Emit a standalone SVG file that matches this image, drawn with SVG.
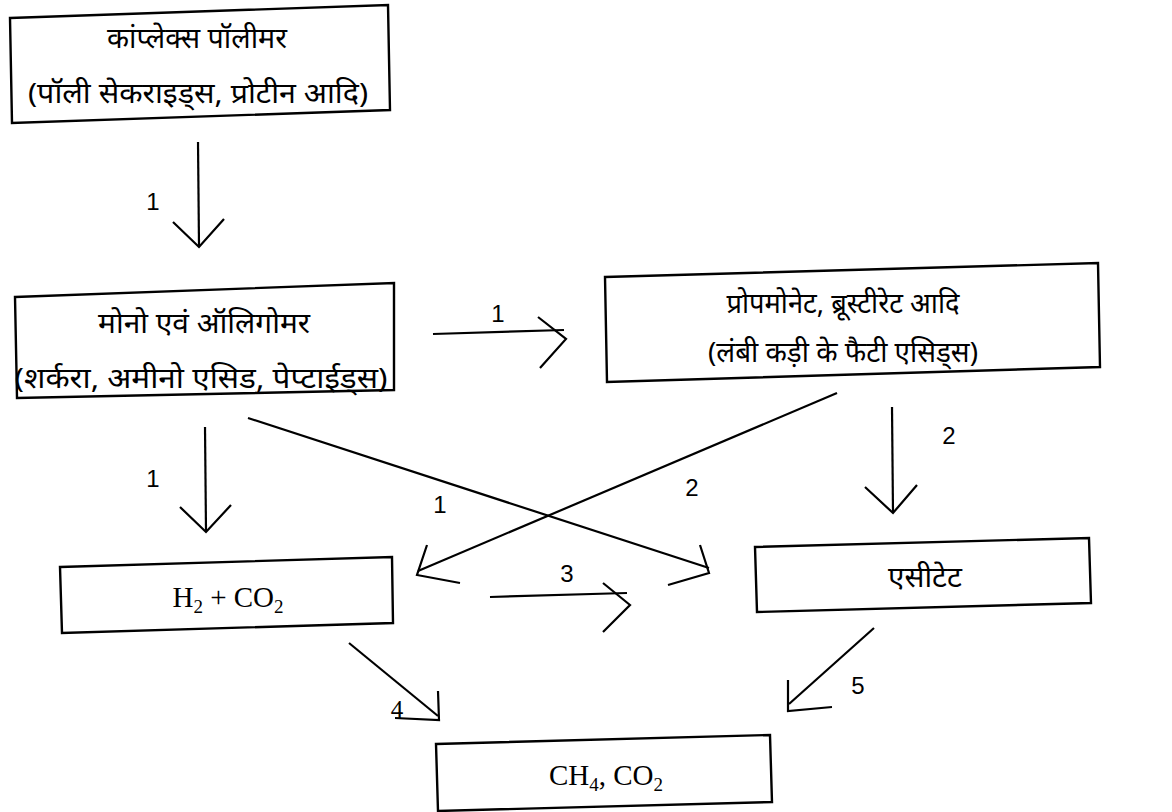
<svg xmlns="http://www.w3.org/2000/svg" width="1172" height="812" viewBox="0 0 1172 812">
<style>
.box{fill:#fff;stroke:#000;stroke-width:2.4;stroke-linejoin:miter}
.ln{fill:none;stroke:#000;stroke-width:2.2;stroke-linecap:butt;stroke-linejoin:miter}
.hi{font-family:"Noto Sans","Noto Sans Devanagari","Lohit Devanagari",sans-serif;font-size:28px;fill:#000;text-anchor:middle}
.tm{font-family:"Liberation Serif","Times New Roman",serif;font-size:29px;fill:#000;text-anchor:middle}
.num{font-family:"Liberation Sans",Arial,sans-serif;font-size:24px;fill:#000;text-anchor:middle}
.nums{font-family:"Liberation Serif",serif;font-size:25px;fill:#000;text-anchor:middle}
</style>
<rect width="1172" height="812" fill="#fff"/>
<g id="connectors">
  <g id="c1">
    <line class="ln" x1="198" y1="142" x2="199" y2="246"/>
    <polyline class="ln" points="173,222 199,247 224,219"/>
    <text class="num" x="153" y="210">1</text>
  </g>
  <g id="c2">
    <line class="ln" x1="433" y1="334" x2="564" y2="330"/>
    <polyline class="ln" points="538,317 566,339 540,368"/>
    <text class="num" x="498" y="322">1</text>
  </g>
  <g id="c3">
    <line class="ln" x1="205" y1="427" x2="206" y2="531"/>
    <polyline class="ln" points="180,507 206,532 231,505"/>
    <text class="num" x="153" y="487">1</text>
  </g>
  <g id="c4">
    <line class="ln" x1="248" y1="418" x2="709" y2="568"/>
    <polyline class="ln" points="700,545 709,573 668,585"/>
    <text class="num" x="440" y="513">1</text>
  </g>
  <g id="c5">
    <line class="ln" x1="837" y1="393" x2="418" y2="571"/>
    <polyline class="ln" points="427,545 417,575 460,583"/>
    <text class="num" x="692" y="496">2</text>
  </g>
  <g id="c6">
    <line class="ln" x1="892" y1="407" x2="893" y2="512"/>
    <polyline class="ln" points="865,487 893,513 917,485"/>
    <text class="num" x="949" y="444">2</text>
  </g>
  <g id="c7">
    <line class="ln" x1="490" y1="597" x2="627" y2="593"/>
    <polyline class="ln" points="603,583 630,605 603,632"/>
    <text class="num" x="567" y="582">3</text>
  </g>
  <g id="c8">
    <line class="ln" x1="349" y1="643" x2="438" y2="716"/>
    <polyline class="ln" points="438,691 439,720 395,718"/>
    <text class="nums" x="397" y="718">4</text>
  </g>
  <g id="c9">
    <line class="ln" x1="874" y1="628" x2="789" y2="704"/>
    <polyline class="ln" points="788,680 788,711 832,707"/>
    <text class="num" x="858" y="694">5</text>
  </g>
</g>
<g id="node-polymer">
  <polygon class="box" points="10,18 388,5 390,110 12,123"/>
  <text class="hi" x="197" y="48" textLength="180" lengthAdjust="spacingAndGlyphs">कांप्लेक्स पॉलीमर</text>
  <text class="hi" x="198" y="103" textLength="340" lengthAdjust="spacingAndGlyphs">(पॉली सेकराइड्स, प्रोटीन आदि)</text>
</g>
<g id="node-mono">
  <polygon class="box" points="15,297 394,283 394,390 17,398"/>
  <text class="hi" x="204" y="333" textLength="212" lengthAdjust="spacingAndGlyphs">मोनो एवं ऑलिगोमर</text>
  <text class="hi" x="201" y="388" textLength="373" lengthAdjust="spacingAndGlyphs">(शर्करा, अमीनो एसिड, पेप्टाईड्स)</text>
</g>
<g id="node-fatty">
  <polygon class="box" points="605,277 1098,263 1100,367 607,382"/>
  <text class="hi" x="843" y="313" textLength="233" lengthAdjust="spacingAndGlyphs">प्रोपमोनेट, ब्रूस्टीरेट आदि</text>
  <text class="hi" x="843" y="362" textLength="270" lengthAdjust="spacingAndGlyphs">(लंबी कड़ी के फैटी एसिड्स)</text>
</g>
<g id="node-h2">
  <polygon class="box" points="60,567 392,557 393,623 62,633"/>
  <text class="tm" x="228" y="607">H<tspan font-size="19" dy="6">2</tspan><tspan dy="-6"> + CO</tspan><tspan font-size="19" dy="6">2</tspan></text>
</g>
<g id="node-acetate">
  <polygon class="box" points="755,547 1089,538 1091,603 757,612"/>
  <text class="hi" x="925" y="587" textLength="74" lengthAdjust="spacingAndGlyphs">एसीटेट</text>
</g>
<g id="node-ch4">
  <polygon class="box" points="436,744 770,735 772,802 438,811"/>
  <text class="tm" x="606" y="785">CH<tspan font-size="19" dy="6">4</tspan><tspan dy="-6">, CO</tspan><tspan font-size="19" dy="6">2</tspan></text>
</g>
</svg>
